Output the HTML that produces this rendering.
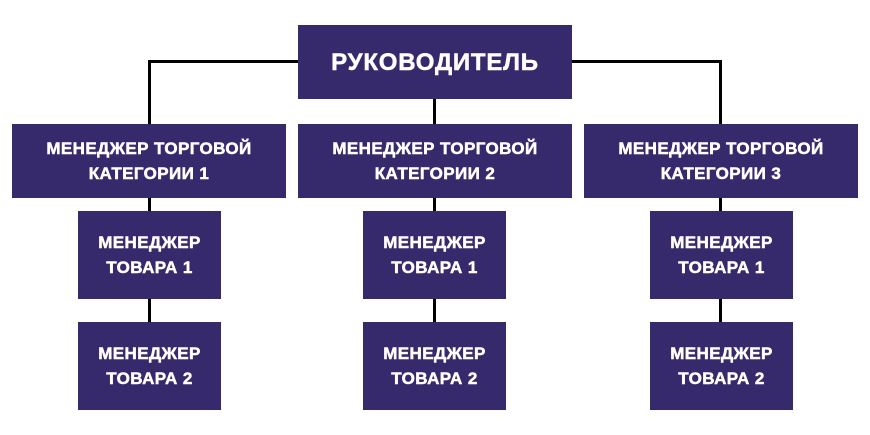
<!DOCTYPE html>
<html><head><meta charset="utf-8"><style>
body{margin:0;width:870px;height:435px;background:#fff;position:relative;overflow:hidden;font-family:"Liberation Sans","DejaVu Sans",sans-serif}
.b{position:absolute;background:#362a6c;color:#fff;font-weight:bold;display:flex;align-items:center;justify-content:center;text-align:center;font-size:17px;letter-spacing:0.4px;line-height:25px;-webkit-text-stroke:0.5px #fff}
.l{position:absolute;background:#000}
</style></head><body>
<div class="l" style="left:148px;top:60px;width:150px;height:3px"></div>
<div class="l" style="left:572px;top:60px;width:150px;height:3px"></div>
<div class="l" style="left:148px;top:60px;width:3px;height:64px"></div>
<div class="l" style="left:719px;top:60px;width:3px;height:64px"></div>
<div class="l" style="left:433px;top:99px;width:3px;height:25px"></div>
<div class="l" style="left:148px;top:198px;width:3px;height:124px"></div>
<div class="l" style="left:433px;top:198px;width:3px;height:124px"></div>
<div class="l" style="left:719px;top:198px;width:3px;height:124px"></div>
<div class="b" style="left:298px;top:25px;width:274px;height:74px;font-size:24px;letter-spacing:0.8px">РУКОВОДИТЕЛЬ</div>
<div class="b" style="left:12px;top:124px;width:274px;height:74px">МЕНЕДЖЕР ТОРГОВОЙ<br>КАТЕГОРИИ 1</div>
<div class="b" style="left:298px;top:124px;width:274px;height:74px">МЕНЕДЖЕР ТОРГОВОЙ<br>КАТЕГОРИИ 2</div>
<div class="b" style="left:584px;top:124px;width:274px;height:74px">МЕНЕДЖЕР ТОРГОВОЙ<br>КАТЕГОРИИ 3</div>
<div class="b" style="left:78px;top:211px;width:143px;height:88px">МЕНЕДЖЕР<br>ТОВАРА 1</div>
<div class="b" style="left:363px;top:211px;width:143px;height:88px">МЕНЕДЖЕР<br>ТОВАРА 1</div>
<div class="b" style="left:650px;top:211px;width:143px;height:88px">МЕНЕДЖЕР<br>ТОВАРА 1</div>
<div class="b" style="left:78px;top:322px;width:143px;height:88px">МЕНЕДЖЕР<br>ТОВАРА 2</div>
<div class="b" style="left:363px;top:322px;width:143px;height:88px">МЕНЕДЖЕР<br>ТОВАРА 2</div>
<div class="b" style="left:650px;top:322px;width:143px;height:88px">МЕНЕДЖЕР<br>ТОВАРА 2</div>
</body></html>
